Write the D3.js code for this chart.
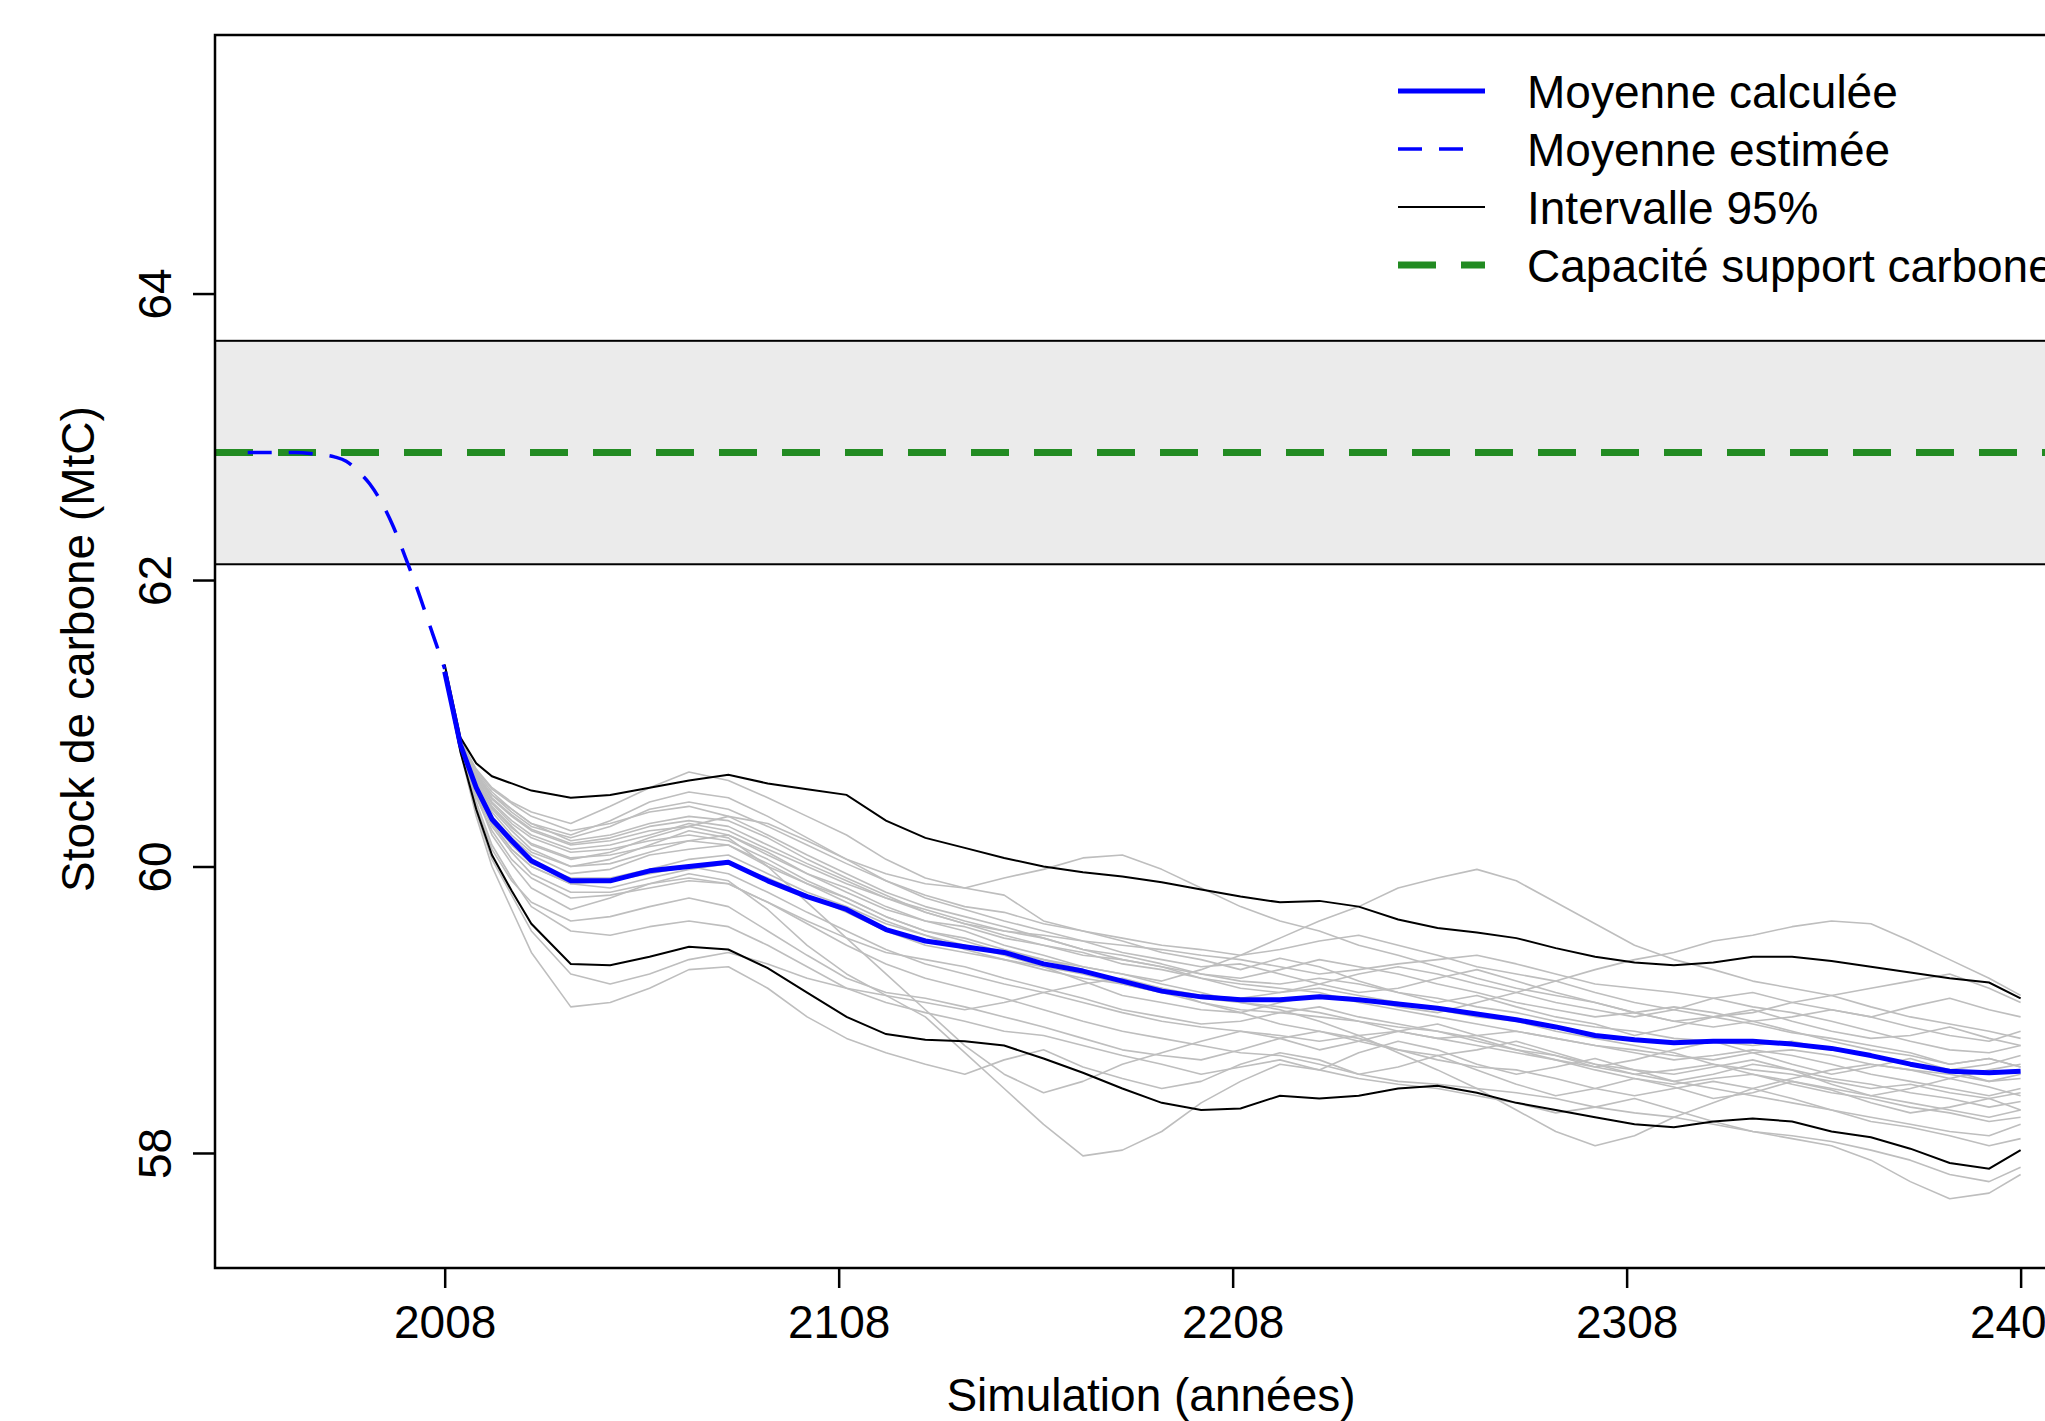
<!DOCTYPE html>
<html>
<head>
<meta charset="utf-8">
<script src="https://cdn.jsdelivr.net/npm/d3@7"></script>
<style>
  html, body { margin: 0; padding: 0; background: #fff; overflow: hidden; }
  text { font-family: "Liberation Sans", Arial, sans-serif; fill: #000; }
</style>
</head>
<body>
<div id="viz"></div>
<script>
// set up constants (pixel frame of the R plot region)
const outerWidth = 2045,
    outerHeight = 1421,
    plot = {left: 215, top: 35, right: 2087, bottom: 1268},
    fontSize = 46;

// axis domains and ticks
const xDomain = [1949.7, 2424.85],
    yDomain = [57.197, 65.805],
    xTicks = [2008, 2108, 2208, 2308, 2408],
    yTicks = [58, 60, 62, 64];

// grey band (intervalle de la capacité support) and carrying capacity
const bandLow = 62.11,
    bandHigh = 63.67,
    capacite = 62.89;

// estimated mean before the simulation start
const estYears = [1958, 1965, 1970, 1975, 1980, 1983, 1986, 1989, 1992, 1995, 1998, 2001, 2004, 2006, 2008];
const estMean  = [62.89, 62.89, 62.89, 62.88, 62.86, 62.83, 62.76, 62.67, 62.54, 62.37, 62.16, 61.94, 61.70, 61.54, 61.38];

// simulation years (shared by all simulated series)
const years = [2008, 2012, 2016, 2020, 2025, 2030, 2040, 2050, 2060, 2070, 2080, 2090, 2100, 2110,
    2120, 2130, 2140, 2150, 2160, 2170, 2180, 2190, 2200, 2210, 2220, 2230, 2240, 2250, 2260,
    2270, 2280, 2290, 2300, 2310, 2320, 2330, 2340, 2350, 2360, 2370, 2380, 2390, 2400, 2408];

const meanCalc = [61.36, 60.85, 60.55, 60.33, 60.18, 60.04, 59.90, 59.90, 59.97, 60.00, 60.03, 59.90, 59.79, 59.70,
    59.56, 59.48, 59.44, 59.40, 59.32, 59.27, 59.20, 59.13, 59.09, 59.07, 59.07, 59.09, 59.07, 59.04, 59.01,
    58.97, 58.93, 58.88, 58.82, 58.79, 58.77, 58.78, 58.78, 58.76, 58.73, 58.68, 58.62, 58.57, 58.56, 58.57];

const upper95 = [61.41, 60.90, 60.72, 60.63, 60.58, 60.53, 60.48, 60.50, 60.55, 60.60, 60.64, 60.58, 60.54, 60.50,
    60.32, 60.20, 60.13, 60.06, 60.00, 59.96, 59.93, 59.89, 59.84, 59.79, 59.75, 59.76, 59.72, 59.63, 59.57,
    59.54, 59.50, 59.43, 59.37, 59.33, 59.31, 59.33, 59.37, 59.37, 59.34, 59.30, 59.26, 59.22, 59.19, 59.08];

const lower95 = [61.36, 60.80, 60.40, 60.08, 59.83, 59.60, 59.32, 59.31, 59.37, 59.44, 59.42, 59.29, 59.12, 58.95,
    58.83, 58.79, 58.78, 58.75, 58.66, 58.56, 58.45, 58.35, 58.30, 58.31, 58.40, 58.38, 58.40, 58.45, 58.47,
    58.42, 58.35, 58.30, 58.25, 58.20, 58.18, 58.22, 58.24, 58.22, 58.15, 58.11, 58.03, 57.93, 57.89, 58.02];

// individual simulation runs (grey)
const sim01 = [61.36, 60.88, 60.68, 60.55, 60.45, 60.38, 60.30, 60.42, 60.55, 60.66, 60.60, 60.48, 60.35, 60.22, 60.05, 59.92, 59.85, 59.80, 59.62, 59.55, 59.48, 59.40, 59.35, 59.28, 59.36, 59.30, 59.20, 59.12, 59.05, 59.10, 59.02, 58.95, 58.90, 58.82, 58.88, 58.95, 58.90, 58.84, 58.80, 58.75, 58.70, 58.62, 58.66, 58.60];
const sim02 = [61.36, 60.80, 60.35, 60.00, 59.70, 59.40, 59.02, 59.05, 59.15, 59.28, 59.30, 59.15, 58.95, 58.80, 58.70, 58.62, 58.55, 58.65, 58.72, 58.60, 58.52, 58.45, 58.50, 58.62, 58.70, 58.65, 58.55, 58.60, 58.68, 58.58, 58.48, 58.40, 58.45, 58.52, 58.46, 58.38, 58.42, 58.50, 58.44, 58.35, 58.28, 58.32, 58.38, 58.30];
const sim03 = [61.36, 60.84, 60.50, 60.22, 60.02, 59.85, 59.70, 59.78, 59.88, 59.95, 59.90, 59.70, 59.45, 59.25, 59.10, 58.95, 58.70, 58.45, 58.20, 57.98, 58.02, 58.15, 58.35, 58.50, 58.62, 58.58, 58.70, 58.78, 58.72, 58.62, 58.55, 58.60, 58.66, 58.58, 58.50, 58.55, 58.62, 58.58, 58.48, 58.40, 58.45, 58.52, 58.46, 58.40];
const sim04 = [61.36, 60.86, 60.60, 60.42, 60.28, 60.15, 60.05, 60.10, 60.20, 60.28, 60.35, 60.30, 60.18, 60.05, 59.95, 59.88, 59.85, 59.92, 59.98, 60.06, 60.08, 59.98, 59.85, 59.72, 59.62, 59.55, 59.45, 59.38, 59.30, 59.22, 59.15, 59.10, 59.05, 58.98, 58.92, 58.88, 58.92, 58.85, 58.78, 58.72, 58.68, 58.62, 58.66, 58.60];
const sim05 = [61.36, 60.85, 60.55, 60.35, 60.20, 60.08, 59.95, 59.98, 60.08, 60.12, 60.15, 60.00, 59.88, 59.78, 59.65, 59.55, 59.50, 59.42, 59.35, 59.30, 59.25, 59.20, 59.28, 59.38, 59.50, 59.62, 59.72, 59.85, 59.92, 59.98, 59.90, 59.75, 59.60, 59.45, 59.35, 59.28, 59.20, 59.15, 59.10, 59.02, 58.95, 58.90, 58.85, 58.80];
const sim06 = [61.36, 60.84, 60.52, 60.30, 60.12, 60.00, 59.88, 59.85, 59.92, 59.98, 60.02, 59.92, 59.80, 59.68, 59.55, 59.45, 59.40, 59.35, 59.30, 59.20, 59.10, 59.05, 59.00, 58.98, 59.05, 59.10, 59.08, 59.02, 58.98, 59.05, 59.12, 59.20, 59.28, 59.35, 59.40, 59.48, 59.52, 59.58, 59.62, 59.60, 59.48, 59.35, 59.22, 59.10];
const sim07 = [61.36, 60.82, 60.45, 60.15, 59.92, 59.72, 59.55, 59.52, 59.58, 59.62, 59.58, 59.45, 59.30, 59.15, 59.05, 58.98, 58.92, 58.85, 58.82, 58.75, 58.68, 58.62, 58.55, 58.60, 58.65, 58.58, 58.52, 58.48, 58.45, 58.40, 58.35, 58.28, 58.32, 58.38, 58.30, 58.22, 58.15, 58.10, 58.05, 57.95, 57.80, 57.68, 57.72, 57.85];
const sim08 = [61.36, 60.87, 60.62, 60.45, 60.32, 60.22, 60.12, 60.15, 60.22, 60.30, 60.25, 60.12, 60.00, 59.88, 59.78, 59.70, 59.62, 59.55, 59.50, 59.42, 59.38, 59.32, 59.25, 59.22, 59.28, 59.35, 59.30, 59.25, 59.18, 59.12, 59.05, 59.00, 58.95, 58.98, 59.02, 58.98, 58.92, 58.95, 59.00, 58.95, 58.88, 58.82, 58.78, 58.85];
const sim09 = [61.36, 60.83, 60.48, 60.25, 60.05, 59.92, 59.78, 59.80, 59.85, 59.90, 59.88, 59.75, 59.62, 59.50, 59.40, 59.35, 59.30, 59.22, 59.15, 59.08, 59.00, 58.95, 58.90, 58.92, 58.98, 59.02, 58.95, 58.90, 58.85, 58.78, 58.72, 58.68, 58.62, 58.58, 58.55, 58.60, 58.65, 58.58, 58.52, 58.48, 58.42, 58.38, 58.32, 58.36];
const sim10 = [61.36, 60.86, 60.58, 60.40, 60.25, 60.12, 60.00, 60.05, 60.15, 60.25, 60.20, 60.00, 59.75, 59.50, 59.25, 59.00, 58.75, 58.55, 58.42, 58.50, 58.62, 58.70, 58.78, 58.85, 58.80, 58.72, 58.78, 58.85, 58.90, 58.82, 58.75, 58.68, 58.60, 58.65, 58.72, 58.78, 58.70, 58.62, 58.55, 58.60, 58.66, 58.58, 58.50, 58.55];
const sim11 = [61.36, 60.88, 60.64, 60.50, 60.38, 60.28, 60.20, 60.28, 60.40, 60.45, 60.40, 60.28, 60.15, 60.02, 59.90, 59.80, 59.72, 59.68, 59.60, 59.55, 59.50, 59.45, 59.42, 59.38, 59.42, 59.48, 59.52, 59.45, 59.38, 59.30, 59.25, 59.20, 59.12, 59.05, 59.00, 58.95, 58.98, 59.05, 59.10, 59.15, 59.20, 59.25, 59.15, 59.05];
const sim12 = [61.36, 60.82, 60.42, 60.12, 59.90, 59.75, 59.62, 59.65, 59.72, 59.78, 59.72, 59.55, 59.38, 59.22, 59.12, 59.08, 59.02, 58.95, 58.88, 58.80, 58.72, 58.68, 58.65, 58.72, 58.80, 58.85, 58.80, 58.72, 58.65, 58.60, 58.58, 58.52, 58.45, 58.40, 58.45, 58.50, 58.45, 58.38, 58.30, 58.25, 58.20, 58.15, 58.12, 58.20];
const sim13 = [61.36, 60.85, 60.54, 60.32, 60.15, 60.02, 59.92, 59.92, 59.98, 60.05, 60.08, 59.95, 59.82, 59.72, 59.60, 59.52, 59.45, 59.38, 59.30, 59.25, 59.18, 59.12, 59.08, 59.05, 59.00, 58.92, 58.82, 58.70, 58.58, 58.45, 58.30, 58.15, 58.05, 58.12, 58.25, 58.35, 58.45, 58.52, 58.58, 58.62, 58.58, 58.52, 58.58, 58.62];
const sim14 = [61.36, 60.87, 60.65, 60.50, 60.40, 60.30, 60.22, 60.32, 60.45, 60.52, 60.48, 60.35, 60.20, 60.05, 59.90, 59.78, 59.70, 59.62, 59.55, 59.48, 59.40, 59.35, 59.30, 59.32, 59.25, 59.18, 59.12, 59.15, 59.22, 59.28, 59.20, 59.12, 59.05, 58.98, 58.92, 58.95, 59.00, 58.92, 58.85, 58.80, 58.82, 58.88, 58.80, 58.75];
const sim15 = [61.36, 60.81, 60.38, 60.05, 59.80, 59.55, 59.25, 59.18, 59.25, 59.35, 59.40, 59.32, 59.22, 59.15, 59.10, 59.05, 59.00, 59.05, 59.12, 59.18, 59.22, 59.15, 59.05, 58.98, 58.90, 58.85, 58.78, 58.72, 58.68, 58.72, 58.78, 58.70, 58.62, 58.55, 58.50, 58.45, 58.40, 58.35, 58.30, 58.22, 58.18, 58.12, 58.05, 58.10];
const sim16 = [61.36, 60.86, 60.57, 60.38, 60.22, 60.10, 60.00, 60.02, 60.10, 60.18, 60.22, 60.10, 59.95, 59.85, 59.72, 59.62, 59.58, 59.50, 59.45, 59.38, 59.35, 59.30, 59.22, 59.15, 59.12, 59.18, 59.25, 59.30, 59.25, 59.18, 59.12, 59.05, 59.00, 58.95, 59.00, 59.08, 59.12, 59.05, 59.00, 58.95, 59.02, 59.08, 59.00, 58.95];
const sim17 = [61.36, 60.88, 60.66, 60.52, 60.40, 60.30, 60.18, 60.22, 60.30, 60.35, 60.32, 60.20, 60.05, 59.92, 59.80, 59.68, 59.60, 59.52, 59.45, 59.40, 59.32, 59.28, 59.22, 59.18, 59.15, 59.12, 59.05, 59.00, 58.95, 58.90, 58.85, 58.80, 58.75, 58.72, 58.68, 58.65, 58.70, 58.72, 58.68, 58.62, 58.58, 58.55, 58.50, 58.52];
const sim18 = [61.36, 60.87, 60.63, 60.47, 60.35, 60.25, 60.15, 60.18, 60.25, 60.28, 60.22, 60.08, 59.95, 59.82, 59.70, 59.62, 59.55, 59.45, 59.38, 59.30, 59.25, 59.18, 59.12, 59.05, 59.02, 58.98, 58.92, 58.88, 58.85, 58.80, 58.72, 58.65, 58.58, 58.52, 58.48, 58.52, 58.55, 58.50, 58.45, 58.40, 58.35, 58.30, 58.25, 58.30];
const sim19 = [61.36, 60.86, 60.61, 60.44, 60.30, 60.20, 60.10, 60.12, 60.18, 60.22, 60.18, 60.05, 59.90, 59.78, 59.65, 59.55, 59.48, 59.40, 59.35, 59.28, 59.20, 59.15, 59.10, 59.08, 59.12, 59.15, 59.10, 59.05, 59.00, 58.95, 58.92, 58.85, 58.80, 58.75, 58.70, 58.62, 58.58, 58.55, 58.50, 58.45, 58.48, 58.42, 58.38, 58.42];
const sim20 = [61.36, 60.88, 60.67, 60.54, 60.44, 60.35, 60.25, 60.30, 60.38, 60.42, 60.35, 60.22, 60.08, 59.95, 59.82, 59.72, 59.65, 59.58, 59.50, 59.42, 59.35, 59.30, 59.25, 59.20, 59.18, 59.22, 59.18, 59.12, 59.08, 59.02, 58.98, 58.92, 58.88, 58.85, 58.80, 58.78, 58.75, 58.78, 58.72, 58.68, 58.62, 58.58, 58.62, 58.68];
const sim21 = [61.36, 60.84, 60.53, 60.30, 60.12, 60.00, 59.88, 59.90, 59.95, 60.00, 59.95, 59.82, 59.68, 59.55, 59.42, 59.32, 59.25, 59.18, 59.12, 59.05, 58.98, 58.92, 58.88, 58.85, 58.82, 58.78, 58.82, 58.85, 58.80, 58.75, 58.70, 58.65, 58.60, 58.55, 58.58, 58.62, 58.55, 58.48, 58.42, 58.38, 58.32, 58.28, 58.22, 58.25];
const sim22 = [61.36, 60.86, 60.59, 60.41, 60.27, 60.16, 60.06, 60.08, 60.14, 60.18, 60.15, 60.02, 59.88, 59.75, 59.62, 59.52, 59.42, 59.35, 59.28, 59.22, 59.18, 59.12, 59.05, 59.00, 58.98, 58.95, 58.92, 58.85, 58.80, 58.82, 58.85, 58.80, 58.75, 58.70, 58.65, 58.68, 58.72, 58.68, 58.62, 58.55, 58.50, 58.45, 58.40, 58.45];
const sim23 = [61.36, 60.87, 60.64, 60.48, 60.36, 60.26, 60.16, 60.20, 60.28, 60.32, 60.28, 60.15, 60.02, 59.90, 59.78, 59.68, 59.60, 59.55, 59.52, 59.48, 59.45, 59.42, 59.38, 59.35, 59.30, 59.25, 59.28, 59.32, 59.35, 59.38, 59.32, 59.25, 59.18, 59.15, 59.12, 59.08, 59.02, 58.98, 58.92, 58.85, 58.78, 58.72, 58.70, 58.75];
const sim24 = [61.36, 60.83, 60.50, 60.28, 60.10, 59.95, 59.82, 59.82, 59.88, 59.92, 59.88, 59.75, 59.60, 59.45, 59.32, 59.22, 59.15, 59.08, 59.00, 58.92, 58.85, 58.80, 58.75, 58.70, 58.68, 58.62, 58.55, 58.50, 58.48, 58.45, 58.42, 58.38, 58.32, 58.28, 58.25, 58.20, 58.15, 58.12, 58.08, 58.02, 57.95, 57.85, 57.80, 57.90];

const simulations = [sim01, sim02, sim03, sim04, sim05, sim06, sim07, sim08,
    sim09, sim10, sim11, sim12, sim13, sim14, sim15, sim16,
    sim17, sim18, sim19, sim20, sim21, sim22, sim23, sim24];

// legend entries
const legendLabels = ["Moyenne calculée", "Moyenne estimée", "Intervalle 95%", "Capacité support carbone"];
const legendColors = ["#0000ff", "#0000ff", "#000000", "#228b22"];
const legendWidths = [5, 3.5, 2, 7];
const legendDash = [null, "24,17,24,40", null, "38,25"];

window.onload = function main () {

const svg = d3.select("#viz").append("svg")
    .attr("width", outerWidth)
    .attr("height", outerHeight)
    .style("display", "block");

// scales
const x = d3.scaleLinear().domain(xDomain).range([plot.left, plot.right]),
    y = d3.scaleLinear().domain(yDomain).range([plot.bottom, plot.top]);

svg.append("defs").append("clipPath")
    .attr("id", "plotclip")
  .append("rect")
    .attr("x", plot.left)
    .attr("y", plot.top)
    .attr("width", plot.right - plot.left)
    .attr("height", plot.bottom - plot.top);

const inner = svg.append("g").attr("clip-path", "url(#plotclip)");

// grey band
inner.append("rect")
    .attr("x", plot.left - 5)
    .attr("y", y(bandHigh))
    .attr("width", plot.right - plot.left + 10)
    .attr("height", y(bandLow) - y(bandHigh))
    .attr("fill", "#ebebeb")
    .attr("stroke", "#000")
    .attr("stroke-width", 2);

// carrying capacity
inner.append("line")
    .attr("x1", plot.left)
    .attr("x2", plot.right)
    .attr("y1", y(capacite))
    .attr("y2", y(capacite))
    .attr("stroke", "#228b22")
    .attr("stroke-width", 7)
    .attr("stroke-dasharray", "38,25");

const line = d3.line()
    .x((d, i) => x(years[i]))
    .y(d => y(d));

// simulation runs
inner.selectAll("path.sim")
    .data(simulations).enter()
    .append("path")
    .attr("class", "sim")
    .attr("d", line)
    .attr("fill", "none")
    .attr("stroke", "#bebebe")
    .attr("stroke-width", 1.6)
    .attr("stroke-linejoin", "round");

// 95% interval
inner.selectAll("path.ci")
    .data([upper95, lower95]).enter()
    .append("path")
    .attr("class", "ci")
    .attr("d", line)
    .attr("fill", "none")
    .attr("stroke", "#000")
    .attr("stroke-width", 2);

// computed mean
inner.append("path")
    .attr("d", line(meanCalc))
    .attr("fill", "none")
    .attr("stroke", "#0000ff")
    .attr("stroke-width", 5)
    .attr("stroke-linejoin", "round");

// estimated mean
const estLine = d3.line()
    .x((d, i) => x(estYears[i]))
    .y(d => y(d))
    .curve(d3.curveMonotoneX);

inner.append("path")
    .attr("d", estLine(estMean))
    .attr("fill", "none")
    .attr("stroke", "#0000ff")
    .attr("stroke-width", 3.5)
    .attr("stroke-dasharray", "24,17");

// frame
svg.append("rect")
    .attr("x", plot.left)
    .attr("y", plot.top)
    .attr("width", plot.right - plot.left)
    .attr("height", plot.bottom - plot.top)
    .attr("fill", "none")
    .attr("stroke", "#000")
    .attr("stroke-width", 2.5);

// axes
const xAxis = svg.append("g")
    .attr("transform", "translate(0," + plot.bottom + ")")
    .call(d3.axisBottom(x).tickValues(xTicks).tickSize(20).tickFormat(d3.format("d")));
xAxis.select(".domain").remove();
xAxis.selectAll("line").attr("stroke", "#000").attr("stroke-width", 2.5);
xAxis.selectAll("text")
    .attr("y", 70)
    .attr("dy", 0)
    .style("font-size", fontSize + "px")
    .style("font-family", "'Liberation Sans', Arial, sans-serif");

const yAxis = svg.append("g")
    .attr("transform", "translate(" + plot.left + ",0)")
    .call(d3.axisLeft(y).tickValues(yTicks).tickSize(22));
yAxis.select(".domain").remove();
yAxis.selectAll("line").attr("stroke", "#000").attr("stroke-width", 2.5);
yAxis.selectAll("text")
    .attr("transform", "rotate(-90)")
    .attr("x", 0)
    .attr("y", -44)
    .attr("dy", 0)
    .attr("text-anchor", "middle")
    .style("font-size", fontSize + "px")
    .style("font-family", "'Liberation Sans', Arial, sans-serif");

// axis titles
svg.append("text")
    .attr("x", (plot.left + plot.right) / 2)
    .attr("y", 1411)
    .attr("text-anchor", "middle")
    .style("font-size", fontSize + "px")
    .text("Simulation (années)");

svg.append("text")
    .attr("transform", "translate(94," + 649 + ") rotate(-90)")
    .attr("text-anchor", "middle")
    .style("font-size", fontSize + "px")
    .text("Stock de carbone (MtC)");

// legend
const legend = svg.append("g").attr("transform", "translate(1398,91)");
const rows = legend.selectAll("g")
    .data(legendLabels).enter()
    .append("g")
    .attr("transform", (d, i) => "translate(0," + (i * 58) + ")");

rows.append("line")
    .attr("x1", 0)
    .attr("x2", 87)
    .attr("stroke", (d, i) => legendColors[i])
    .attr("stroke-width", (d, i) => legendWidths[i])
    .attr("stroke-dasharray", (d, i) => legendDash[i]);

rows.append("text")
    .attr("x", 129)
    .attr("y", 17)
    .style("font-size", fontSize + "px")
    .text(d => d);

};
</script>
</body>
</html>
